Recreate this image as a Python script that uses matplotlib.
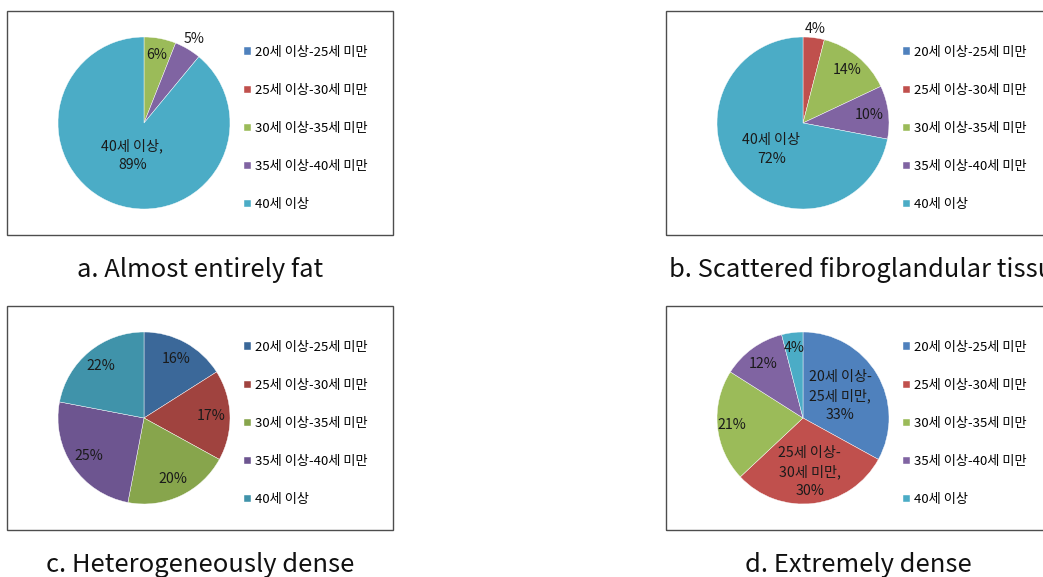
import matplotlib
matplotlib.use("Agg")
import matplotlib.pyplot as plt
from matplotlib.patches import Rectangle
import numpy as np

plt.rcParams['font.family'] = ['Noto Sans CJK KR', 'DejaVu Sans']

# 데이터
categories = ["20세 이상-25세 미만", "25세 이상-30세 미만", "30세 이상-35세 미만",
              "35세 이상-40세 미만", "40세 이상"]

vals_a = [0, 0, 6, 5, 89]
vals_b = [0, 4, 14, 10, 72]
vals_c = [16, 17, 20, 25, 22]
vals_d = [33, 30, 21, 12, 4]

labels_a = ["", "", "6%", "5%", "40세 이상,\n89%"]
labels_b = ["", "4%", "14%", "10%", "40세 이상\n72%"]
labels_c = ["16%", "17%", "20%", "25%", "22%"]
labels_d = ["20세 이상-\n25세 미만,\n33%", "25세 이상-\n30세 미만,\n30%", "21%", "12%", "4%"]

captions = ["a. Almost entirely fat", "b. Scattered fibroglandular tissue",
            "c. Heterogeneously dense", "d. Extremely dense"]

# 스타일
colors_std = ["#4F81BD", "#C0504D", "#9BBB59", "#8064A2", "#4BACC6"]
colors_dark = ["#3B6899", "#A0433F", "#87A54C", "#6D5590", "#4093AA"]
dist_a = [0.8, 0.8, 0.8, 1.14, 0.4]
dist_b = [0.8, 1.1, 0.8, 0.78, 0.48]
dist_c = [0.78, 0.78, 0.78, 0.78, 0.78]
dist_d = [0.5, 0.63, 0.83, 0.78, 0.82]

W, H = 1043, 577
fig = plt.figure(figsize=(W / 100, H / 100), dpi=100)
fig.patch.set_facecolor("white")

R = 86  # pie radius, px


def panel(x0, y0, vals, labels, dists, colors, caption, cap_x, cap_y, cap_ha):
    # 테두리 상자
    fig.patches.append(Rectangle((x0 / W, 1 - (y0 + 224) / H), 386 / W, 224 / H,
                                 transform=fig.transFigure, fill=False,
                                 edgecolor="#4d4d4d", lw=1.0))
    cx, cy = x0 + 137, y0 + 112
    ax = fig.add_axes([(cx - R) / W, 1 - (cy + R) / H, 2 * R / W, 2 * R / H])
    wedges, _ = ax.pie(vals, colors=colors, startangle=90, counterclock=False,
                       wedgeprops=dict(edgecolor="white", linewidth=0.3))
    ax.set_xlim(-1, 1)
    ax.set_ylim(-1, 1)
    ax.set_aspect("equal")
    for w, lab, d in zip(wedges, labels, dists):
        if not lab:
            continue
        ang = np.deg2rad((w.theta1 + w.theta2) / 2)
        ax.text(d * np.cos(ang), d * np.sin(ang), lab, ha="center", va="center",
                fontsize=10.2, color="#1a1a1a", linespacing=1.4, clip_on=False)
    ax.legend(wedges, categories, loc="upper left",
              bbox_to_anchor=((x0 + 237) / W, 1 - (y0 + 35) / H),
              bbox_transform=fig.transFigure, frameon=False, fontsize=9.5,
              handlelength=0.52, handleheight=0.52, handletextpad=0.3,
              labelspacing=1.9, borderpad=0, borderaxespad=0)
    fig.text(cap_x / W, 1 - cap_y / H, caption, ha=cap_ha, va="center",
             fontsize=18.4, color="#111111")


panel(7, 11, vals_a, labels_a, dist_a, colors_std, captions[0], 200, 270, "center")
panel(666, 11, vals_b, labels_b, dist_b, colors_std, captions[1], 669, 270, "left")
panel(7, 306, vals_c, labels_c, dist_c, colors_dark, captions[2], 200, 565, "center")
panel(666, 306, vals_d, labels_d, dist_d, colors_std, captions[3], 858, 565, "center")

fig.savefig("out.png", dpi=100)
